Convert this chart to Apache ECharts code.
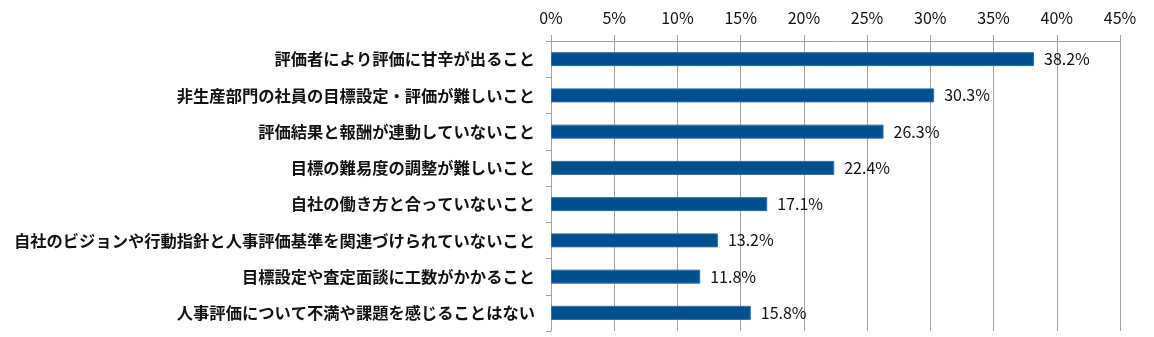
<!DOCTYPE html>
<html><head><meta charset="utf-8">
<script src="https://cdn.jsdelivr.net/npm/echarts@6/dist/echarts.min.js"></script>
<style>html,body{margin:0;padding:0;background:#fff}#c{width:1154px;height:337px}</style>
</head><body><div id="c"></div>
<script>
const categories = [
  '評価者により評価に甘辛が出ること',
  '非生産部門の社員の目標設定・評価が難しいこと',
  '評価結果と報酬が連動していないこと',
  '目標の難易度の調整が難しいこと',
  '自社の働き方と合っていないこと',
  '自社のビジョンや行動指針と人事評価基準を関連づけられていないこと',
  '目標設定や査定面談に工数がかかること',
  '人事評価について不満や課題を感じることはない'
];
const values = [38.2, 30.3, 26.3, 22.4, 17.1, 13.2, 11.8, 15.8];
const xTicks = [0, 5, 10, 15, 20, 25, 30, 35, 40, 45];

const chart = echarts.init(document.getElementById('c'), null, {renderer: 'canvas'});
chart.setOption({
  animation: false,
  grid: {left: 551, right: 34, top: 41, bottom: 6, containLabel: false},
  xAxis: {
    type: 'value', position: 'top', min: 0, max: 45, interval: 5,
    axisLine: {show: true, lineStyle: {color: '#a0a0a0', width: 1}},
    axisTick: {show: true, length: 6, lineStyle: {color: '#a0a0a0'}},
    splitLine: {show: true, lineStyle: {color: '#a0a0a0', width: 1}},
    axisLabel: {
      margin: 15, color: '#111', fontSize: 16, fontFamily: 'Noto Sans CJK JP',
      formatter: v => xTicks.includes(v) ? v + '%' : ''
    }
  },
  yAxis: {
    type: 'category', data: categories, inverse: true,
    axisLine: {show: true, lineStyle: {color: '#a0a0a0', width: 1}},
    axisTick: {show: true, length: 5, lineStyle: {color: '#a0a0a0'}},
    axisLabel: {margin: 16, color: '#111', fontSize: 16.3, fontWeight: 'bold', fontFamily: 'Noto Sans CJK JP'}
  },
  series: [{
    type: 'bar', data: values, barWidth: 14,
    itemStyle: {color: '#00508f', borderColor: '#2f6fa8', borderWidth: 1},
    label: {
      show: true, position: 'right', distance: 10, color: '#111', fontSize: 16,
      fontFamily: 'Noto Sans CJK JP', formatter: p => p.value.toFixed(1) + '%'
    }
  }]
});
</script></body></html>
